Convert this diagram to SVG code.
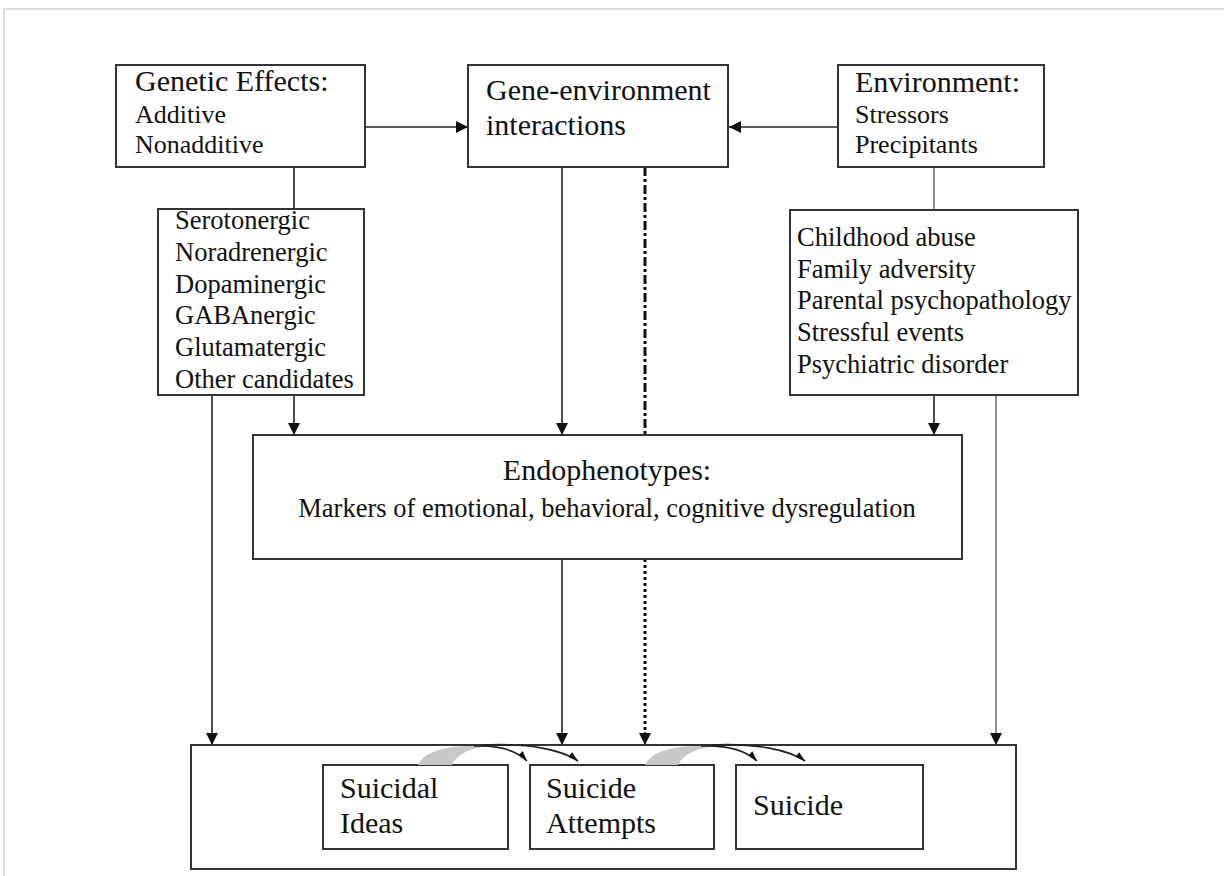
<svg xmlns="http://www.w3.org/2000/svg" width="1224" height="876" viewBox="0 0 1224 876">
  <style>
    .box { fill: #fff; stroke: #333; stroke-width: 2; }
    .t { font-family: "Liberation Serif", "Times New Roman", serif; fill: #111; }
    .h { font-size: 30px; }
    .s { font-size: 26px; }
    .l { font-size: 26.5px; }
    .edge { stroke: #222; stroke-width: 1.6; fill: none; }
    .gray { stroke: #777; }
    .dashdot { stroke: #111; stroke-width: 3; stroke-dasharray: 9 3 3 3; }
    .dots { stroke: #111; stroke-width: 3; stroke-dasharray: 3 3; }
    .curve { stroke: #222; stroke-width: 1.6; fill: none; }
    .band { fill: #c8c8c8; }
  </style>
  <defs>
    <marker id="arr" viewBox="0 0 12 12" refX="12" refY="6" markerWidth="12" markerHeight="12" markerUnits="userSpaceOnUse" orient="auto">
      <path d="M0,0 L12,6 L0,12 Z" fill="#111"/>
    </marker>
    <marker id="harp" viewBox="0 0 10 8" refX="10" refY="6" markerWidth="10" markerHeight="8" markerUnits="userSpaceOnUse" orient="auto">
      <path d="M0,2 L10,6 L0,8 Z" fill="#111"/>
    </marker>
  </defs>

  <!-- page frame -->
  <path d="M4,876 L4,9 L1224,9" fill="none" stroke="#d4d4d4" stroke-width="1.5"/>

  <!-- connectors -->
  <g id="connectors">
    <line class="edge" x1="365" y1="127" x2="468" y2="127" marker-end="url(#arr)"/>
    <line class="edge" x1="838" y1="127" x2="729" y2="127" marker-end="url(#arr)"/>
    <line class="edge" x1="294" y1="167" x2="294" y2="209"/>
    <line class="edge" x1="294" y1="395" x2="294" y2="435" marker-end="url(#arr)"/>
    <line class="edge" x1="212" y1="395" x2="212" y2="745" marker-end="url(#arr)"/>
    <line class="edge" x1="562" y1="167" x2="562" y2="435" marker-end="url(#arr)"/>
    <line class="dashdot" x1="645" y1="167" x2="645" y2="435"/>
    <line class="edge" x1="562" y1="559" x2="562" y2="745" marker-end="url(#arr)"/>
    <line class="dots" x1="645" y1="559" x2="645" y2="734"/>
    <line class="edge" x1="645" y1="732" x2="645" y2="745" marker-end="url(#arr)"/>
    <line class="edge gray" x1="934" y1="167" x2="934" y2="210"/>
    <line class="edge" x1="934" y1="395" x2="934" y2="435" marker-end="url(#arr)"/>
    <line class="edge gray" x1="996" y1="395" x2="996" y2="745" marker-end="url(#arr)"/>
  </g>

  <g id="genetic">
    <rect class="box" x="116" y="65" width="249" height="102"/>
    <text class="t h" x="135" y="91">Genetic Effects:</text>
    <text class="t s" x="135" y="123">Additive</text>
    <text class="t s" x="135" y="153">Nonadditive</text>
  </g>

  <g id="gxe">
    <rect class="box" x="468" y="65" width="260" height="102"/>
    <text class="t h" x="486" y="100">Gene-environment</text>
    <text class="t h" x="486" y="135">interactions</text>
  </g>

  <g id="environment">
    <rect class="box" x="838" y="65" width="206" height="102"/>
    <text class="t h" x="855" y="92">Environment:</text>
    <text class="t s" x="855" y="123">Stressors</text>
    <text class="t s" x="855" y="153">Precipitants</text>
  </g>

  <g id="candidates">
    <rect class="box" x="158" y="209" width="206" height="186"/>
    <text class="t l" x="175" y="229">Serotonergic</text>
    <text class="t l" x="175" y="261">Noradrenergic</text>
    <text class="t l" x="175" y="293">Dopaminergic</text>
    <text class="t l" x="175" y="324">GABAnergic</text>
    <text class="t l" x="175" y="356">Glutamatergic</text>
    <text class="t l" x="175" y="388">Other candidates</text>
  </g>

  <g id="stressors">
    <rect class="box" x="790" y="210" width="288" height="185"/>
    <text class="t l" x="797" y="246">Childhood abuse</text>
    <text class="t l" x="797" y="278">Family adversity</text>
    <text class="t l" x="797" y="309">Parental psychopathology</text>
    <text class="t l" x="797" y="341">Stressful events</text>
    <text class="t l" x="797" y="373">Psychiatric disorder</text>
  </g>

  <g id="endophenotypes">
    <rect class="box" x="253" y="435" width="709" height="124"/>
    <text class="t h" x="607" y="480" text-anchor="middle">Endophenotypes:</text>
    <text class="t l" x="607" y="517" text-anchor="middle">Markers of emotional, behavioral, cognitive dysregulation</text>
  </g>

  <g id="outcomes">
    <rect class="box" x="191" y="745" width="825" height="124"/>
    <g id="ideas">
      <rect class="box" x="323" y="765" width="185" height="84"/>
      <text class="t h" x="340" y="798">Suicidal</text>
      <text class="t h" x="340" y="833">Ideas</text>
    </g>
    <g id="attempts">
      <rect class="box" x="530" y="765" width="184" height="84"/>
      <text class="t h" x="546" y="798">Suicide</text>
      <text class="t h" x="546" y="833">Attempts</text>
    </g>
    <g id="suicide">
      <rect class="box" x="736" y="765" width="187" height="84"/>
      <text class="t h" x="753" y="815">Suicide</text>
    </g>
    <!-- progression arcs: grey band splitting into two curved arrows -->
    <g id="progression">
      <path class="band" d="M418,765 C424,752 444,746 472,746 L496,746 C476,746 458,752 452,765 Z"/>
      <path class="curve" d="M474,746 C500,745 516,750 527,761" marker-end="url(#harp)"/>
      <path class="curve" d="M484,745 C530,743 562,750 578,761" marker-end="url(#harp)"/>
      <path class="band" d="M645,765 C651,752 671,746 699,746 L723,746 C703,746 685,752 678,765 Z"/>
      <path class="curve" d="M701,746 C727,745 745,750 757,761" marker-end="url(#harp)"/>
      <path class="curve" d="M711,745 C757,743 789,750 805,761" marker-end="url(#harp)"/>
    </g>
  </g>
</svg>
